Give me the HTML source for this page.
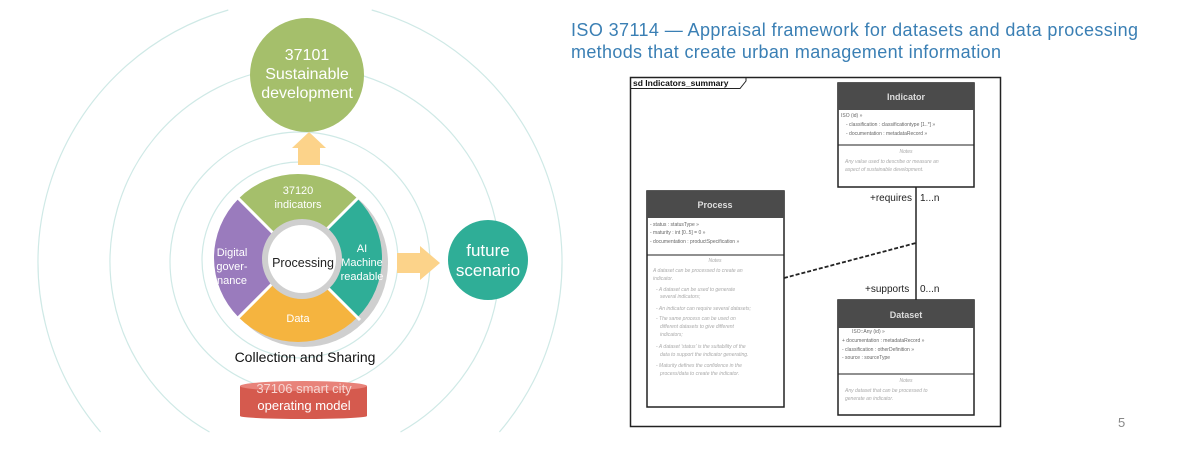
<!DOCTYPE html>
<html><head><meta charset="utf-8"><style>
html,body{margin:0;padding:0;background:#fff;width:1200px;height:453px;overflow:hidden;}
svg{display:block;}
</style></head><body>
<svg width="1200" height="453" viewBox="0 0 1200 453" xmlns="http://www.w3.org/2000/svg" font-family="Liberation Sans, sans-serif">
<g fill="none" stroke="#cfe9e6" stroke-width="1.2">
<circle cx="300" cy="260" r="98"/>
<circle cx="300" cy="262" r="130"/>
<path d="M209.5,432 A195,195 0 1 1 400.5,432"/>
<path d="M228.3,10 A262,262 0 0 0 100.6,432"/>
<path d="M371.7,10 A262,262 0 0 1 499.4,432"/>
</g>
<circle cx="307" cy="75" r="57" fill="#a5bf6b"/>
<text x="307" y="60" font-size="16" fill="#fff" text-anchor="middle">37101</text>
<text x="307" y="79" font-size="16" fill="#fff" text-anchor="middle">Sustainable</text>
<text x="307" y="98" font-size="16" fill="#fff" text-anchor="middle">development</text>
<polygon points="298,165 298,148 292,148 309,132 326,148 320,148 320,165" fill="#fcd38a"/>
<circle cx="304" cy="263" r="84" fill="#cfcfcf"/>
<g transform="translate(298,258)">
<path d="M-59.4,-59.4 A84,84 0 0 1 59.4,-59.4 L24,-24 A34,34 0 0 0 -24,-24 Z" fill="#a5bf6b"/>
<path d="M59.4,-59.4 A84,84 0 0 1 59.4,59.4 L24,24 A34,34 0 0 0 24,-24 Z" fill="#2fae97"/>
<path d="M59.4,59.4 A84,84 0 0 1 -59.4,59.4 L-24,24 A34,34 0 0 0 24,24 Z" fill="#f5b43f"/>
<path d="M-59.4,59.4 A84,84 0 0 1 -59.4,-59.4 L-24,-24 A34,34 0 0 0 -24,24 Z" fill="#9a7bbd"/>
<g stroke="#fff" stroke-width="3">
<line x1="-24" y1="-24" x2="-62" y2="-62"/><line x1="24" y1="-24" x2="62" y2="-62"/>
<line x1="24" y1="24" x2="62" y2="62"/><line x1="-24" y1="24" x2="-62" y2="62"/>
</g>
</g>
<circle cx="302" cy="259" r="40" fill="#cfcfcf"/>
<circle cx="302" cy="259" r="34" fill="#fff"/>
<text x="303" y="267" font-size="12.5" fill="#222" text-anchor="middle">Processing</text>
<text x="298" y="194" font-size="11" fill="#fff" text-anchor="middle">37120</text>
<text x="298" y="208" font-size="11" fill="#fff" text-anchor="middle">indicators</text>
<text x="232" y="256" font-size="11" fill="#fff" text-anchor="middle">Digital</text>
<text x="232" y="270" font-size="11" fill="#fff" text-anchor="middle">gover-</text>
<text x="232" y="284" font-size="11" fill="#fff" text-anchor="middle">nance</text>
<text x="362" y="252" font-size="11" fill="#fff" text-anchor="middle">AI</text>
<text x="362" y="266" font-size="11" fill="#fff" text-anchor="middle">Machine</text>
<text x="362" y="280" font-size="11" fill="#fff" text-anchor="middle">readable</text>
<text x="298" y="322" font-size="11" fill="#fff" text-anchor="middle">Data</text>
<polygon points="397,253 420,253 420,246 440,263 420,280 420,273 397,273" fill="#fcd38a"/>
<circle cx="488" cy="260" r="40" fill="#2fae97"/>
<text x="488" y="256" font-size="17" fill="#fff" text-anchor="middle">future</text>
<text x="488" y="276" font-size="17" fill="#fff" text-anchor="middle">scenario</text>
<text x="305" y="362" font-size="14" fill="#111" text-anchor="middle">Collection and Sharing</text>
<rect x="240" y="386" width="127" height="30" fill="#d55a4e"/>
<ellipse cx="303.5" cy="416" rx="63.5" ry="3" fill="#d55a4e"/>
<ellipse cx="303.5" cy="386" rx="63.5" ry="5" fill="#e8837a"/>
<text x="304" y="393" font-size="13" fill="#f6d6d2" text-anchor="middle">37106 smart city</text>
<text x="304" y="410" font-size="13" fill="#fff" text-anchor="middle">operating model</text>
<text x="571" y="36" font-size="18" fill="#3a7fb4" textLength="567" lengthAdjust="spacing">ISO 37114 — Appraisal framework for datasets and data processing</text>
<text x="571" y="58" font-size="18" fill="#3a7fb4" textLength="430" lengthAdjust="spacing">methods that create urban management information</text>
<rect x="630.5" y="77.5" width="370" height="349" fill="#fff" stroke="#222" stroke-width="1.5"/>
<path d="M630.5,88.5 H740 L746,81 V77.5" fill="none" stroke="#222" stroke-width="1"/>
<text x="633" y="86" font-size="8.5" fill="#111" font-weight="bold">sd Indicators_summary</text>
<g stroke="#222" stroke-width="1.5" fill="#fff">
<rect x="838" y="83" width="136" height="104"/>
<rect x="647" y="191" width="137" height="216"/>
<rect x="838" y="300" width="136" height="115"/>
</g>
<g fill="#4b4b4b">
<rect x="838" y="83" width="136" height="27"/>
<rect x="647" y="191" width="137" height="27"/>
<rect x="838" y="300" width="136" height="28"/>
</g>
<g stroke="#222" stroke-width="1">
<line x1="838" y1="145" x2="974" y2="145"/>
<line x1="647" y1="255" x2="784" y2="255"/>
<line x1="838" y1="374" x2="974" y2="374"/>
</g>
<g font-size="9" fill="#ddd" text-anchor="middle" font-weight="bold">
<text x="906" y="100">Indicator</text>
<text x="715" y="208">Process</text>
<text x="906" y="318">Dataset</text>
</g>
<g font-size="5" fill="#666">
<text x="841" y="117">ISO (id) »</text>
<text x="846" y="126">- classification : classificationtype [1..*] »</text>
<text x="846" y="135">- documentation : metadataRecord »</text>
<text x="650" y="226">- status : statusType »</text>
<text x="650" y="234">- maturity : int [0..5] = 0 »</text>
<text x="650" y="243">- documentation : productSpecification »</text>
<text x="852" y="333">ISO::Any (id) »</text>
<text x="842" y="342">+ documentation : metadataRecord »</text>
<text x="842" y="351">- classification : otherDefinition »</text>
<text x="842" y="359">- source : sourceType</text>
</g>
<g font-size="5" fill="#aaa" font-style="italic">
<text x="906" y="153" text-anchor="middle">Notes</text>
<text x="845" y="163">Any value used to describe or measure an</text>
<text x="845" y="171">aspect of sustainable development.</text>
<text x="715" y="262" text-anchor="middle">Notes</text>
<text x="653" y="272">A dataset can be processed to create an</text>
<text x="653" y="280">indicator.</text>
<text x="656" y="291">- A dataset can be used to generate</text>
<text x="660" y="298">several indicators;</text>
<text x="656" y="310">- An indicator can require several datasets;</text>
<text x="656" y="320">- The same process can be used on</text>
<text x="660" y="328">different datasets to give different</text>
<text x="660" y="336">indicators;</text>
<text x="656" y="348">- A dataset 'status' is the suitability of the</text>
<text x="660" y="356">data to support the indicator generating.</text>
<text x="656" y="367">- Maturity defines the confidence in the</text>
<text x="660" y="375">process/data to create the indicator.</text>
<text x="906" y="382" text-anchor="middle">Notes</text>
<text x="845" y="392">Any dataset that can be processed to</text>
<text x="845" y="400">generate an indicator.</text>
</g>
<line x1="916" y1="187" x2="916" y2="300" stroke="#222" stroke-width="1.5"/>
<line x1="784" y1="278" x2="916" y2="243" stroke="#222" stroke-width="1.8" stroke-dasharray="4,2"/>
<g font-size="10" fill="#222">
<text x="870" y="201">+requires</text><text x="920" y="201">1...n</text>
<text x="865" y="292">+supports</text><text x="920" y="292">0...n</text>
</g>
<text x="1118" y="427" font-size="13" fill="#888">5</text>
</svg>
</body></html>
